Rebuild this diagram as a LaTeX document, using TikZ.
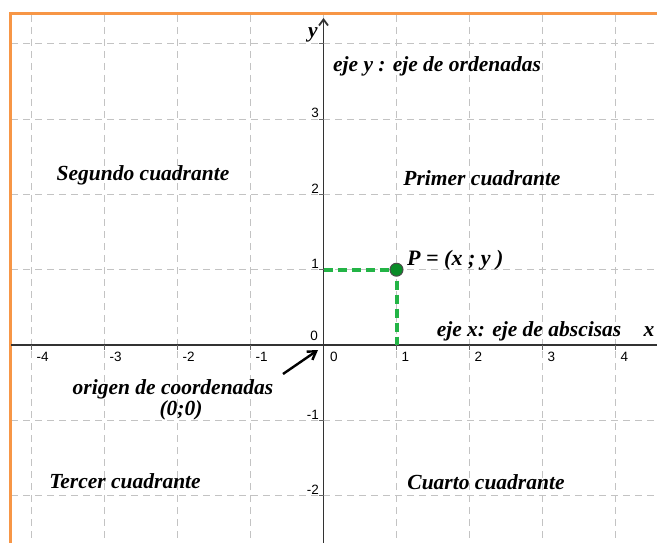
\documentclass[tikz,border=0pt]{standalone}
\usepackage{fontspec}
\setmainfont{Liberation Serif}
\newfontfamily\ticksfont{Liberation Sans}
\usetikzlibrary{arrows.meta}
\definecolor{frameorange}{RGB}{247,150,70}
\definecolor{gridgray}{RGB}{195,195,195}
\definecolor{pgreen}{RGB}{35,180,70}
\definecolor{pfill}{RGB}{10,140,40}
\tikzset{
  gridline/.style={gridgray, line width=1pt, dash pattern=on 7pt off 5pt},
  axisline/.style={black!80, line width=1.4pt},
  ticklabel/.style={font=\ticksfont\fontsize{13.5}{13.5}\selectfont, inner sep=0pt},
  lbl/.style={font=\bfseries\itshape\fontsize{21.5}{24}\selectfont, inner sep=0pt},
  greendash/.style={pgreen, line width=4pt, dash pattern=on 9pt off 5pt},
  ptdot/.style={circle, fill=pfill, draw=black!70, line width=1pt, minimum size=13pt, inner sep=0pt}
}
\begin{document}
\begin{tikzpicture}[x=1pt,y=-1pt]
\useasboundingbox (0,0) rectangle (657,543);
\fill[white] (0,0) rectangle (657,543);
% grid
\foreach \k in {-4,...,4} {
  \draw[gridline] ({323.5+73*\k},15) -- ({323.5+73*\k},543);
}
\foreach \k in {-2,...,4} {
  \draw[gridline] (11,{345-75.3*\k}) -- (657,{345-75.3*\k});
}
% frame
\draw[frameorange, line width=3pt] (10,560) -- (10,13.5) -- (670,13.5);
% axes
\coordinate (O) at (323.5,345);
\coordinate (xend) at (657,345);
\coordinate (xstart) at (11,345);
\coordinate (ytop) at (323.5,18);
\coordinate (ybot) at (323.5,543);
\draw[axisline] (xstart) -- (xend);
\draw[axisline, -{Straight Barb[length=6pt,width=9pt,line width=1.8pt]}] (ybot) -- (ytop);
% ticks
\foreach \k in {-4,...,-1,1,2,3,4} {
  \draw[black!60, line width=0.8pt] ({323.5+73*\k},345) -- ({323.5+73*\k},350);
}
\foreach \k in {-2,-1,1,2,3,4} {
  \draw[black!60, line width=0.8pt] (318.5,{345-75.3*\k}) -- (323.5,{345-75.3*\k});
}
% tick labels
\foreach \k/\t in {-4/-4,-3/-3,-2/-2,-1/-1,1/1,2/2,3/3,4/4} {
  \node[ticklabel, anchor=north west] (tx\k) at ({323.5+73*\k+5},352) {\t};
}
\node[ticklabel, anchor=north west] (tx0) at (330,352) {0};
\node[ticklabel, anchor=south east] (ty0) at (318,341) {0};
\foreach \k/\t in {-2/-2,-1/-1,1/1,2/2,3/3} {
  \node[ticklabel, anchor=south east] (ty\k) at (319,{345-75.3*\k-1}) {\t};
}
% axis names
\node[lbl] (ylab) at (313,35) {y};
\node[lbl] (xlab) at (649,332) {x};
% texts
\node[lbl] (ejey) at (437,66) {eje y : eje de ordenadas};
\node[lbl] (seg) at (143,175) {Segundo cuadrante};
\node[lbl] (pri) at (482,178) {Primer cuadrante};
\node[lbl] (ejex) at (529,331) {eje x: eje de abscisas};
\node[lbl] (orig) at (173,389) {origen de coordenadas};
\node[lbl] (cero) at (181,410) {(0;0)};
\node[lbl] (ter) at (125,481) {Tercer cuadrante};
\node[lbl] (cua) at (486,482) {Cuarto cuadrante};
% point P
\coordinate (py) at (323.5,269.7);
\coordinate (px) at (396.5,345);
\draw[greendash] (py) -- (396.5,269.7) -- (px);
\node[ptdot] (P) at (396.5,269.7) {};
\node[lbl, font=\bfseries\itshape\fontsize{22}{24}\selectfont, anchor=west] (Plab) at (407,260) {P = (x ; y )};
% origin arrow
\coordinate (arrstart) at (283,374);
\coordinate (arrend) at (318,350);
\draw[black, line width=2.4pt, -{Straight Barb[length=8pt,width=10pt]}] (arrstart) -- (arrend);
\end{tikzpicture}
\end{document}
